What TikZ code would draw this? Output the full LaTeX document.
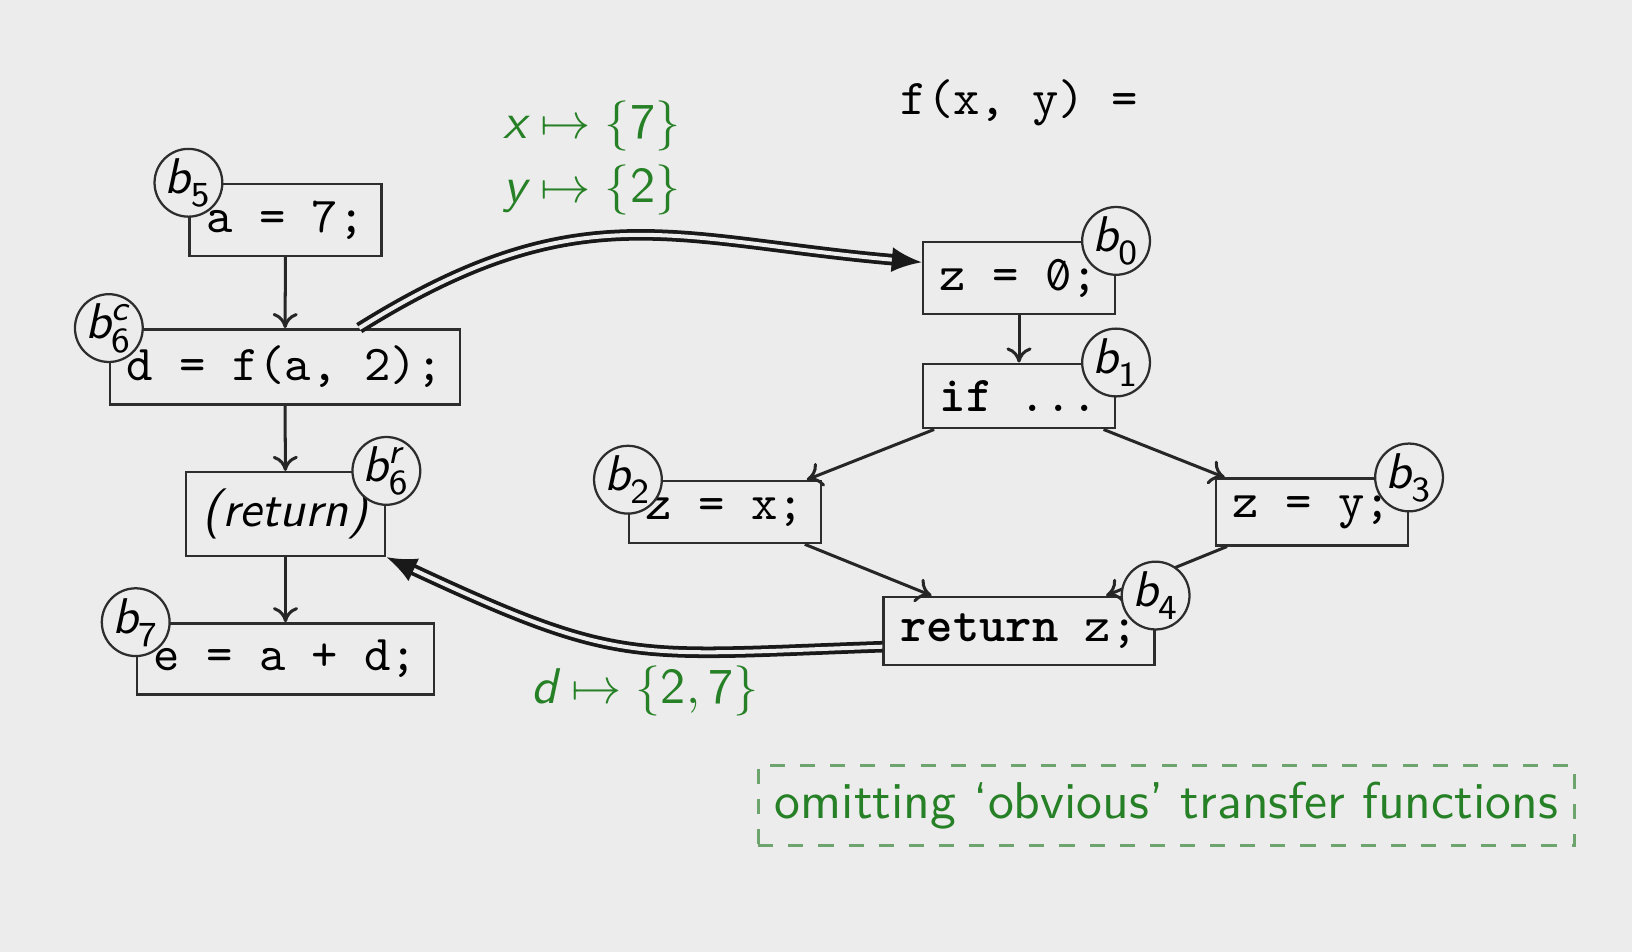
\documentclass[tikz,border=0pt]{standalone}
\usetikzlibrary{arrows.meta}
\definecolor{nen}{RGB}{236,236,236}
\definecolor{vien}{RGB}{45,45,45}
\definecolor{xanhla}{RGB}{38,128,38}
\definecolor{xanhnhat}{RGB}{110,165,110}
\DeclareMathAlphabet{\mathsfit}{TU}{lmss}{m}{sl}
\newcommand{\blk}[2]{$\mathsfit{b}^{\mathsfit{#2}}_{\mathsf{#1}}$}
\newcommand{\szero}{\rlap{0}\makebox[\fontcharwd\font`0][c]{\raisebox{0.1em}{\scalebox{0.7}{/}}}}
\begin{document}
\begin{tikzpicture}[x=0.7cm, y=0.7cm,
    ma/.style={font=\fontsize{10pt}{12pt}\selectfont\ttfamily},
    khoi/.style={ma, draw=vien, line width=0.5pt},
    nhan/.style={circle, draw=vien, fill=nen, line width=0.45pt, inner sep=0pt, minimum size=13.5pt, font=\fontsize{10pt}{12pt}\selectfont},
    canh/.style={-{To[length=3pt,width=5pt]}, line width=0.6pt, draw=black!85},
    goi/.style={double=nen, double distance=0.8pt, line width=0.75pt, draw=black!90, -{Latex[length=6pt,width=5pt]}},
    chu/.style={text=xanhla, font=\fontsize{10pt}{12pt}\selectfont\sffamily}]
    % Nền
    \fill[nen] (0,0) rectangle (16.32,9.52);
    \useasboundingbox (0,0) rectangle (16.32,9.52);

    % Chương trình gọi
    \node[khoi] (gan) at (2.855,7.32) {a = 7;};
    \node[khoi] (goiham) at (2.85,5.85) {d = f(a, 2);};
    \node[khoi, font=\fontsize{10pt}{12pt}\selectfont\sffamily\itshape] (trave) at (2.855,4.38) {(return)};
    \node[khoi] (cong) at (2.855,2.93) {e = a + d;};

    % Hàm f
    \node[ma, anchor=west] (tieude) at (8.83,8.49) {f(x, y) =};
    \node[khoi] (zkhong) at (10.19,6.74) {z = \szero;};
    \node[khoi] (neu) at (10.19,5.56) {\textbf{if} ...};
    \node[khoi] (zx) at (7.25,4.40) {z = x;};
    \node[khoi] (zy) at (13.12,4.40) {z = y;};
    \node[khoi] (trz) at (10.19,3.21) {\textbf{return} z;};

    % Cạnh trong thủ tục
    \draw[canh] (gan) -- (goiham);
    \draw[canh] (goiham) -- (trave);
    \draw[canh] (trave) -- (cong);
    \draw[canh] (zkhong) -- (neu);
    \draw[canh] (neu) -- (zx);
    \draw[canh] (neu) -- (zy);
    \draw[canh] (zx) -- (trz);
    \draw[canh] (zy) -- (trz);

    % Cạnh gọi và trả về
    \draw[goi] ([xshift=5.2mm]goiham.north) .. controls +(32:2.6) and +(175:2.5) .. ([yshift=1.1mm]zkhong.west);
    \draw[goi] ([yshift=-1.1mm]trz.west) .. controls +(182:2.5) and +(-25:2.6) .. (trave.south east);

    % Nhãn khối
    \node[nhan] (b5) at (gan.north west) {\blk{5}{}};
    \node[nhan] (b6c) at (goiham.north west) {\blk{6}{c}};
    \node[nhan] (b6r) at (trave.north east) {\blk{6}{r}};
    \node[nhan] (b7) at (cong.north west) {\blk{7}{}};
    \node[nhan] (b0) at (zkhong.north east) {\blk{0}{}};
    \node[nhan] (b1) at (neu.north east) {\blk{1}{}};
    \node[nhan] (b2) at (zx.north west) {\blk{2}{}};
    \node[nhan] (b3) at (zy.north east) {\blk{3}{}};
    \node[nhan] (b4) at (trz.north east) {\blk{4}{}};

    % Giá trị truyền
    \node[chu, anchor=west] (thamx) at (4.86,8.26) {$\mathsfit{x} \mapsto \{\mathsf{7}\}$};
    \node[chu, anchor=west] (thamy) at (4.86,7.62) {$\mathsfit{y} \mapsto \{\mathsf{2}\}$};
    \node[chu, anchor=west] (ketqua) at (5.14,2.61) {$\mathsfit{d} \mapsto \{\mathsf{2}, \mathsf{7}\}$};

    % Ghi chú
    \node[chu, draw=xanhnhat, dashed, line width=0.6pt, font=\fontsize{10.3pt}{12pt}\selectfont\sffamily] (ghichu) at (11.665,1.465) {omitting ‘obvious’ transfer functions};
\end{tikzpicture}
\end{document}
